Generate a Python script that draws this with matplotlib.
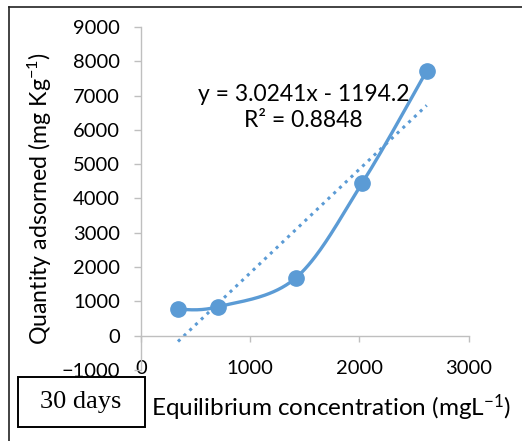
#!/usr/bin/env python3
import numpy as np
import matplotlib
matplotlib.use("Agg")
import matplotlib.pyplot as plt
from matplotlib.lines import Line2D
from matplotlib.patches import Rectangle

# ─── data ─────────────────────────────────────────────────────────────────────
conc     = [339, 708, 1416, 2026, 2615]        # equilibrium concentration (mg/L)
adsorbed = [767, 845, 1680, 4456, 7718]        # quantity adsorbed (mg/kg)
slope, intercept, r2 = 3.0241, -1194.2, 0.8848
xticks = [0, 1000, 2000, 3000]
yticks = [-1000, 0, 1000, 2000, 3000, 4000, 5000, 6000, 7000, 8000, 9000]
# ──────────────────────────────────────────────────────────────────────────────

blue = "#5B9BD5"
grey = "#BFBFBF"
plt.rcParams["font.family"] = ["Lato", "DejaVu Sans"]
plt.rcParams["mathtext.fontset"] = "custom"
plt.rcParams["mathtext.rm"] = "Lato"
plt.rcParams["mathtext.it"] = "Lato"


def excel_smooth(x, y, sx, sy, n=40):
    """Bezier smoothing like Excel's 'smoothed line' (Catmull-Rom style)."""
    p = np.column_stack([np.asarray(x) / sx, np.asarray(y) / sy])
    p = np.vstack([p[0], p, p[-1]])
    out = []
    t = np.linspace(0, 1, n)[:, None]
    for i in range(1, len(p) - 2):
        p0, p3 = p[i], p[i + 1]
        c1 = p0 + (p[i + 1] - p[i - 1]) / 6
        c2 = p3 - (p[i + 2] - p[i]) / 6
        seg = ((1 - t) ** 3) * p0 + 3 * ((1 - t) ** 2) * t * c1 \
            + 3 * (1 - t) * t ** 2 * c2 + t ** 3 * p3
        out.append(seg)
    out = np.vstack(out)
    return out[:, 0] * sx, out[:, 1] * sy


fig = plt.figure(figsize=(5.22, 4.41), dpi=100)
ax = fig.add_axes([0.270, 0.161, 0.628, 0.778])
ax.set_xlim(0, 3000)
ax.set_ylim(-1000, 9000)

# smoothed series + markers
sx, sy = excel_smooth(conc, adsorbed, 3000 / 328, 10000 / 343)
ax.plot(sx, sy, color=blue, lw=2.4, solid_capstyle="round", zorder=3)
ax.plot(conc, adsorbed, "o", color=blue, ms=11, zorder=4)

# linear trendline
tx = np.array([min(conc), max(conc)])
ax.plot(tx, slope * tx + intercept, color=blue, lw=2.2,
        linestyle=(0, (1, 1.6)), zorder=2)

ax.text(1490, 6650, f"y = {slope}x - {abs(intercept)}\nR² = {r2}",
        ha="center", va="center", fontsize=16.5, linespacing=1.3)

for s in ["top", "right"]:
    ax.spines[s].set_visible(False)
ax.spines["bottom"].set_position(("data", 0))
for s in ["left", "bottom"]:
    ax.spines[s].set_color(grey)
    ax.spines[s].set_linewidth(1.0)

ax.set_xticks(xticks)
ax.set_yticks(yticks)
ax.tick_params(axis="x", direction="out", length=4.5, width=1.0, color=grey,
               pad=13, labelsize=14.5)
ax.tick_params(axis="y", direction="out", length=5, width=1.0, color=grey,
               pad=10, labelsize=14.5)

fig.text(0.077, 0.549, r"Quantity adsorned (mg Kg$^{\mathregular{-1}}$)",
         rotation=90, ha="center", va="center", fontsize=16.7)
fig.text(0.634, 0.075, r"Equilibrium concentration (mgL$^{\mathregular{-1}}$)",
         ha="center", va="center", fontsize=17.5)

# "30 days" label box
fig.patches.append(Rectangle((18 / 522, 1 - 427 / 441), 127 / 522, 50 / 441,
                             transform=fig.transFigure, facecolor="white",
                             edgecolor="black", lw=1.4, zorder=10))
fig.text(81 / 522, 1 - 402 / 441, "30 days", ha="center", va="center",
         fontsize=19, family="Liberation Serif", zorder=11)

# outer frame (top and left edges)
fig.lines.append(Line2D([9 / 522, 1], [1 - 7 / 441, 1 - 7 / 441],
                        transform=fig.transFigure, color="#222222", lw=1.2))
fig.lines.append(Line2D([9 / 522, 9 / 522], [0, 1 - 7 / 441],
                        transform=fig.transFigure, color="#222222", lw=1.2))

fig.savefig("out.png", dpi=100)
